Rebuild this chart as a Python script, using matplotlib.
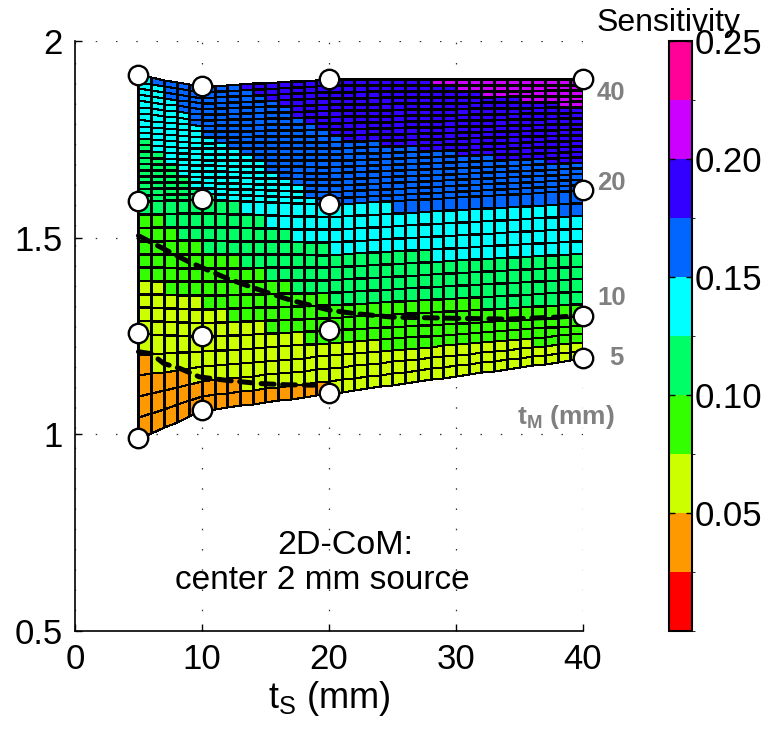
import numpy as np
import matplotlib
matplotlib.use("Agg")
import matplotlib.pyplot as plt
from matplotlib.colors import ListedColormap, BoundaryNorm

plt.rcParams["font.family"] = ["Liberation Sans", "DejaVu Sans"]
plt.rcParams["mathtext.fontset"] = "custom"
plt.rcParams["mathtext.rm"] = "Liberation Sans"
plt.rcParams["mathtext.it"] = "Liberation Sans"
plt.rcParams["mathtext.bf"] = "Liberation Sans:bold"

# Source thickness t_S (columns) and moderator thickness t_M (rows), mm
ts_nodes = [5, 10, 20, 40]
tm_nodes = [5, 10, 20, 40]

# 2D-CoM value at each (t_M, t_S) node
com_y = [
    [0.990, 1.061, 1.104, 1.193],   # t_M = 5
    [1.257, 1.249, 1.265, 1.300],   # t_M = 10
    [1.593, 1.598, 1.585, 1.621],   # t_M = 20
    [1.913, 1.885, 1.903, 1.903],   # t_M = 40
]

# Sensitivity at each (t_M, t_S) node
sensitivity = [
    [0.038, 0.043, 0.0505, 0.065],
    [0.056, 0.065, 0.088, 0.097],
    [0.106, 0.124, 0.154, 0.165],
    [0.148, 0.172, 0.195, 0.215],
]

# Iso-lines drawn over the surface
iso_upper_x = [5, 9, 12, 15, 17, 20, 22, 25, 30, 34, 38, 40]
iso_upper_y = [1.505, 1.438, 1.396, 1.362, 1.341, 1.316, 1.307, 1.298, 1.295, 1.293, 1.298, 1.303]
iso_lower_x = [5, 6, 7, 8.3, 9.8, 12, 14.6, 16.7, 18.8]
iso_lower_y = [1.21, 1.205, 1.18, 1.167, 1.146, 1.137, 1.129, 1.126, 1.125]

tm_labels = ["5", "10", "20", "40"]
cbar_ticks = [0.05, 0.10, 0.15, 0.20, 0.25]

# hsv(10) colour map, 0.025 per level
level_colors = ["#ff0000", "#ff9900", "#ccff00", "#33ff00", "#00ff66",
                "#00ffff", "#0066ff", "#3300ff", "#cc00ff", "#ff0099"]
cmap = ListedColormap(level_colors)
bounds = np.linspace(0, 0.25, 11)
norm = BoundaryNorm(bounds, cmap.N)


def bilinear(grid, xs, ys):
    g = np.asarray(grid, float)
    along_x = np.array([np.interp(xs, ts_nodes, row) for row in g])          # (4, nx)
    full = np.array([np.interp(ys, tm_nodes, along_x[:, j]) for j in range(len(xs))])
    return full.T                                                            # (ny, nx)


ts_fine = np.arange(5, 41, 1.0)
tm_fine = np.arange(5, 41, 1.0)
X = np.tile(ts_fine, (len(tm_fine), 1))
Y = bilinear(com_y, ts_fine, tm_fine)
S = bilinear(sensitivity, ts_fine, tm_fine)
C = S[:-1, :-1]

fig = plt.figure(figsize=(7.76, 7.31), dpi=100)
ax = fig.add_axes([0.0966, 0.1368, 0.6547, 0.8071])

FS = 25

ax.pcolormesh(X, Y, C, cmap=cmap, norm=norm, shading="flat",
              edgecolors="k", linewidth=0.8, zorder=2)

for xs, ys in ((iso_upper_x, iso_upper_y), (iso_lower_x, iso_lower_y)):
    ax.plot(xs, ys, color="k", lw=3.6, ls="--", dashes=(2.6, 1.7),
            dash_capstyle="round", zorder=3)

node_x = np.repeat([ts_nodes], len(tm_nodes), axis=0)
ax.plot(node_x.ravel(), np.asarray(com_y).ravel(), "o", ms=14, mfc="white",
        mec="k", mew=1.7, ls="none", clip_on=False, zorder=5)

# t_M labels beside the t_S = 40 column
label_offsets = {"5": (2.1, 0.0), "10": (1.1, 0.046), "20": (1.1, 0.018), "40": (1.1, -0.035)}
for lab, row in zip(tm_labels, com_y):
    dx, dy = label_offsets[lab]
    ax.text(ts_nodes[-1] + dx, row[-1] + dy, lab, color="#808080", fontsize=18.5,
            fontweight="bold", ha="left", va="center", clip_on=False, zorder=6)
ax.text(34.8, 1.045, r"$\mathbf{t_M}$ (mm)", color="#808080", fontsize=19,
        fontweight="bold", ha="left", va="center", zorder=6)

ax.text(21.3, 0.717, "2D-CoM:", fontsize=24.5, ha="center", va="center")
ax.text(19.5, 0.628, "center 2 mm source", fontsize=24, ha="center", va="center")

ax.set_xlim(0, 40)
ax.set_ylim(0.5, 2)
ax.set_xticks([0, 10, 20, 30, 40])
ax.set_yticks([0.5, 1, 1.5, 2])
ax.set_yticklabels(["0.5", "1", "1.5", "2"])
ax.tick_params(direction="in", length=5, width=1, labelsize=FS, pad=9)
ax.grid(True, color="#333333", lw=0.9, ls=(0, (1.2, 15)), zorder=0)
ax.set_axisbelow(True)
for side in ("top", "right"):
    ax.spines[side].set_visible(False)
for side in ("left", "bottom"):
    ax.spines[side].set_linewidth(1.2)
ax.set_xlabel(r"$\mathregular{t_S}$ (mm)", fontsize=FS + 1, labelpad=2)

cax = fig.add_axes([0.862, 0.1368, 0.0296, 0.8071])
cb = fig.colorbar(plt.cm.ScalarMappable(norm=norm, cmap=cmap), cax=cax,
                  boundaries=bounds, ticks=cbar_ticks)
cb.ax.set_yticklabels([f"{t:.2f}" for t in cbar_ticks])
cb.ax.tick_params(direction="in", length=4, width=1, labelsize=FS, pad=2,
                  left=True, right=True)
cb.outline.set_linewidth(1.5)
fig.text(0.861, 0.968, "Sensitivity", fontsize=23, ha="center", va="center")

fig.savefig("out.png", dpi=100)
